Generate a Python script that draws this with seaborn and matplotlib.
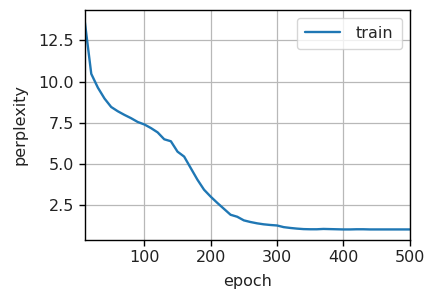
import matplotlib
matplotlib.use("Agg")
import matplotlib.pyplot as plt
import seaborn as sns
import pandas as pd

epochs = list(range(10, 501, 10))
perplexity = [13.72, 10.47, 9.63, 8.97, 8.46, 8.20, 7.98, 7.78, 7.55, 7.40,
              7.18, 6.92, 6.50, 6.38, 5.75, 5.45, 4.75, 4.05, 3.44, 3.02,
              2.64, 2.28, 1.92, 1.80, 1.58, 1.48, 1.40, 1.34, 1.30, 1.27,
              1.17, 1.12, 1.08, 1.05, 1.04, 1.04, 1.06, 1.05, 1.04, 1.03,
              1.03, 1.04, 1.04, 1.03, 1.03, 1.03, 1.03, 1.03, 1.03, 1.03]
series_name = "train"

df = pd.DataFrame({"epoch": epochs, "perplexity": perplexity, "series": series_name})

sns.set_style("white")
plt.rcParams["font.family"] = ["DejaVu Sans"]

fs = 11.5
fig = plt.figure(figsize=(4.34, 2.98), dpi=100)
ax = fig.add_axes([0.195, 0.195, 0.749, 0.772])
sns.lineplot(data=df, x="epoch", y="perplexity", hue="series",
             palette=["#1f77b4"], linewidth=1.7, ax=ax)
ax.set_xlim(10, 500)
ax.set_xticks([100, 200, 300, 400, 500])
ax.set_yticks([2.5, 5.0, 7.5, 10.0, 12.5])
ax.grid(True, color="#b8b8b8", linewidth=0.9)
for s in ax.spines.values():
    s.set_color("black")
    s.set_linewidth(1.0)
ax.tick_params(axis="both", which="both", direction="out", length=4, width=1.0,
               labelsize=fs, left=True, bottom=True, colors="black", labelcolor="#222222")
ax.set_xlabel("epoch", fontsize=fs, color="#222222", labelpad=6)
ax.set_ylabel("perplexity", fontsize=fs, color="#222222", labelpad=8)
leg = ax.legend(loc="upper right", fontsize=fs, frameon=True, borderpad=0.5,
                handlelength=2.2, handletextpad=1.0)
leg.set_title(None)
leg.get_frame().set_edgecolor("#cccccc")
fig.savefig("out.png", dpi=100)
